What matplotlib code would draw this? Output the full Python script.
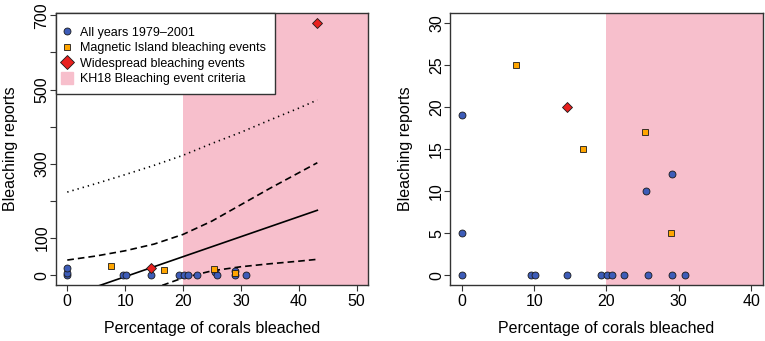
import matplotlib
matplotlib.use('Agg')
import matplotlib.pyplot as plt
from matplotlib.lines import Line2D

plt.rcParams['font.family'] = ['Liberation Sans', 'DejaVu Sans']

# all years 1979-2001
all_pct = [0, 0, 0, 9.6, 10.1, 14.5, 19.3, 20.1, 20.8, 22.4, 25.5, 25.8, 29.0, 29.0, 30.9]
all_reports = [0, 5, 19, 0, 0, 0, 0, 0, 0, 0, 10, 0, 12, 0, 0]

# Magnetic Island bleaching events
mi_pct = [7.5, 16.7, 25.3, 28.9]
mi_reports = [25, 15, 17, 5]

# widespread bleaching events
ws_pct = [14.5, 43.2]
ws_reports = [20, 680]

# fitted line and bands
fit_x = [0, 43.2]
fit_y = [-57.6, 175]
band_x = [0, 5, 10, 15, 20, 25, 30, 35, 40, 43.2]
ci_upper = [41, 52, 66, 84, 110, 146, 190, 234, 276, 303]
ci_lower = [-157, -112, -70, -35, -7, 12, 23, 31, 38, 43]
pi_upper = [224, 247, 271, 296, 323, 355, 385, 418, 450, 472]

KH18_THRESHOLD = 20

STYLE = {
    'blue': '#3D5CB8',
    'orange': '#FFA500',
    'red': '#E8201E',
    'pink': '#F7BFCC',
    'edge': '#1a1a1a',
    'box': '#333333',
    'fs': 11.5,
    'legend_fs': 9,
}
s = STYLE

fig = plt.figure(figsize=(7.65, 3.41), dpi=100)
ax1 = fig.add_axes([0.0728, 0.1633, 0.4086, 0.7995])
ax2 = fig.add_axes([0.5886, 0.1633, 0.4084, 0.7995])


def draw_points(ax):
    ax.plot(all_pct, all_reports, 'o', ms=5, mfc=s['blue'], mec=s['edge'], mew=0.6, zorder=4)
    ax.plot(mi_pct, mi_reports, 's', ms=5, mfc=s['orange'], mec=s['edge'], mew=0.6, zorder=5)
    ax.plot(ws_pct, ws_reports, 'D', ms=5.6, mfc=s['red'], mec=s['edge'], mew=0.6, zorder=6)


def style_axes(ax):
    for sp in ax.spines.values():
        sp.set_color(s['box'])
        sp.set_linewidth(1)
    ax.tick_params(length=4, width=0.8, color=s['box'], labelsize=s['fs'])
    ax.tick_params(axis='x', pad=2)
    ax.tick_params(axis='y', pad=0.5)
    ax.set_xlabel('Percentage of corals bleached', fontsize=s['fs'], labelpad=9)
    ax.set_ylabel('Bleaching reports', fontsize=s['fs'], labelpad=11.5)
    for lab in ax.get_yticklabels():
        lab.set_rotation(90)
        lab.set_va('center')


# left panel
ax1.set_xlim(-2, 52)
ax1.set_ylim(-27, 707)
ax1.axvspan(KH18_THRESHOLD, 52, color=s['pink'], lw=0, zorder=0)
ax1.plot(fit_x, fit_y, color='black', lw=1.2, zorder=3)
ax1.plot(band_x, ci_upper, color='black', lw=1.2, dashes=(4, 2.4), zorder=3)
ax1.plot(band_x, ci_lower, color='black', lw=1.2, dashes=(4, 2.4), zorder=3)
ax1.plot(band_x, pi_upper, color='black', lw=1.2, dashes=(0.8, 2.4), zorder=3)
draw_points(ax1)
ax1.set_xticks([0, 10, 20, 30, 40, 50])
ax1.set_yticks(range(0, 800, 100))
ax1.set_yticklabels(['0', '100', '', '300', '', '500', '', '700'])
style_axes(ax1)

handles = [
    Line2D([], [], marker='o', ls='', ms=5, mfc=s['blue'], mec=s['edge'], mew=0.6),
    Line2D([], [], marker='s', ls='', ms=5, mfc=s['orange'], mec=s['edge'], mew=0.6),
    Line2D([], [], marker='D', ls='', ms=7, mfc=s['red'], mec=s['edge'], mew=0.6),
    Line2D([], [], marker='s', ls='', ms=9, mfc=s['pink'], mec=s['pink']),
]
labels = ['All years 1979\u20132001', 'Magnetic Island bleaching events',
          'Widespread bleaching events', 'KH18 Bleaching event criteria']
leg = ax1.legend(handles, labels, loc='upper left', bbox_to_anchor=(0, 1),
                 borderaxespad=0, fontsize=s['legend_fs'], fancybox=False,
                 edgecolor=s['box'], framealpha=1, borderpad=0.75,
                 handlelength=0.35, handletextpad=0.85, labelspacing=0.28,
                 title=' ', title_fontsize=1)
leg.get_frame().set_linewidth(1)
leg.set_zorder(10)

# right panel
ax2.set_xlim(-1.6, 41.6)
ax2.set_ylim(-1.2, 31.2)
ax2.axvspan(KH18_THRESHOLD, 41.6, color=s['pink'], lw=0, zorder=0)
draw_points(ax2)
ax2.set_xticks([0, 10, 20, 30, 40])
ax2.set_yticks(range(0, 35, 5))
style_axes(ax2)

fig.savefig('out.png', dpi=100)
